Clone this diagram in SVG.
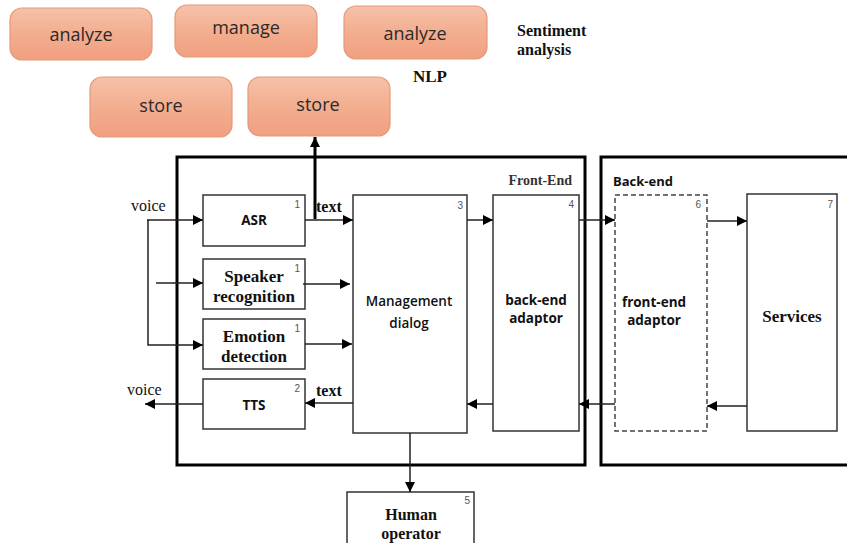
<svg xmlns="http://www.w3.org/2000/svg" width="847" height="543" viewBox="0 0 847 543">
<defs>
<linearGradient id="og" x1="0" y1="0" x2="0" y2="1">
<stop offset="0" stop-color="#f6c2aa"/>
<stop offset="0.5" stop-color="#f3ad8f"/>
<stop offset="1" stop-color="#f0a080"/>
</linearGradient>
<marker id="ah" viewBox="0 0 10 10" refX="10" refY="5" markerWidth="10" markerHeight="10" markerUnits="userSpaceOnUse" orient="auto">
<path d="M0,0 L10,5 L0,10 z" fill="#000"/>
</marker>
</defs>
<style>
.pill{fill:url(#og);stroke:#e39a78;stroke-width:1.2}
.pt{font-family:"Open Sans","Liberation Sans",sans-serif;font-size:18px;fill:#2a2a2a;text-anchor:middle}
.frame{fill:none;stroke:#000;stroke-width:3}
.box{fill:#fff;stroke:#333;stroke-width:1.5}
.dbox{fill:#fff;stroke:#444;stroke-width:1.5;stroke-dasharray:5,3}
.num{font-family:"Liberation Sans",sans-serif;font-size:10px;fill:#555;text-anchor:end}
.sb{font-family:"Open Sans","Liberation Sans",sans-serif;font-weight:bold;font-size:13.5px;fill:#111;text-anchor:middle}
.rb{font-family:"Liberation Serif",serif;font-weight:bold;font-size:17px;fill:#111;text-anchor:middle}
.rl{font-family:"Liberation Serif",serif;font-size:16px;fill:#111}
.c{fill:none;stroke:#222;stroke-width:1.5}
</style>
<g id="analyze1"><rect class="pill" x="10" y="8" width="142" height="52" rx="12"/><text class="pt" x="81" y="41">analyze</text></g>
<g id="manage"><rect class="pill" x="175" y="5" width="142" height="52" rx="12"/><text class="pt" x="246" y="34">manage</text></g>
<g id="analyze2"><rect class="pill" x="344" y="6" width="143" height="53" rx="12"/><text class="pt" x="415" y="40">analyze</text></g>
<g id="store1"><rect class="pill" x="90" y="77" width="142" height="60" rx="12"/><text class="pt" x="161" y="112">store</text></g>
<g id="store2"><rect class="pill" x="248" y="77" width="142" height="59" rx="12"/><text class="pt" x="318" y="111">store</text></g>
<g id="sentiment"><text class="rl" x="517" y="36" style="font-weight:bold">Sentiment</text><text class="rl" x="517" y="55" style="font-weight:bold">analysis</text></g>
<g id="nlp"><text class="rl" x="413" y="82" style="font-weight:bold;font-size:17px">NLP</text></g>

<g id="frontend-frame"><rect class="frame" x="177" y="157" width="408" height="308"/><text x="572" y="185" style="font-family:'Liberation Serif',serif;font-weight:bold;font-size:14px;fill:#333;text-anchor:end">Front-End</text></g>
<g id="backend-frame"><rect class="frame" x="601" y="157" width="260" height="308"/><text x="613" y="186" style="font-family:'Open Sans','Liberation Sans',sans-serif;font-weight:bold;font-size:13px;fill:#111">Back-end</text></g>

<g id="asr"><rect class="box" x="203" y="195" width="102" height="51"/><text class="num" x="300" y="208">1</text><text class="sb" x="254" y="225">ASR</text></g>
<g id="speaker"><rect class="box" x="203" y="259" width="102" height="50"/><text class="num" x="300" y="272">1</text><text class="rb" x="254" y="282">Speaker</text><text class="rb" x="254" y="302">recognition</text></g>
<g id="emotion"><rect class="box" x="203" y="319" width="102" height="50"/><text class="num" x="300" y="332">1</text><text class="rb" x="254" y="342">Emotion</text><text class="rb" x="254" y="362">detection</text></g>
<g id="tts"><rect class="box" x="203" y="379" width="102" height="50"/><text class="num" x="300" y="392">2</text><text class="sb" x="254" y="410">TTS</text></g>
<g id="mgmt"><rect class="box" x="353" y="195" width="114" height="238"/><text class="num" x="463" y="209">3</text><text class="sb" x="409" y="306" style="font-weight:600">Management</text><text class="sb" x="409" y="328" style="font-weight:600">dialog</text></g>
<g id="bea"><rect class="box" x="493" y="195" width="86" height="236"/><text class="num" x="574" y="208">4</text><text class="sb" x="536" y="305">back-end</text><text class="sb" x="536" y="323">adaptor</text></g>
<g id="fea"><rect class="dbox" x="615" y="195" width="92" height="236"/><text class="num" x="701" y="208">6</text><text class="sb" x="654" y="307">front-end</text><text class="sb" x="654" y="325">adaptor</text></g>
<g id="services"><rect class="box" x="747" y="194" width="90" height="237"/><text class="num" x="833" y="208">7</text><text class="rb" x="792" y="322">Services</text></g>
<g id="human"><rect class="box" x="347" y="492" width="127" height="60"/><text class="num" x="470" y="504">5</text><text class="rb" x="411" y="520" style="font-size:16px">Human</text><text class="rb" x="411" y="539" style="font-size:16px">operator</text></g>

<g id="connectors">
<text class="rl" x="131" y="211">voice</text>
<text class="rl" x="316" y="212" style="font-weight:bold">text</text>
<text class="rl" x="316" y="396" style="font-weight:bold">text</text>
<text class="rl" x="127" y="395">voice</text>
<path class="c" d="M147,220 H203" marker-end="url(#ah)"/>
<path class="c" d="M148,220 V345 H203" marker-end="url(#ah)"/>
<path class="c" d="M156,283 H203" marker-end="url(#ah)"/>
<path class="c" d="M305,220 H353" marker-end="url(#ah)"/>
<path d="M315,219 V137" fill="none" stroke="#000" stroke-width="3" marker-end="url(#ah)"/>
<path class="c" d="M303,284 H350" marker-end="url(#ah)"/>
<path class="c" d="M305,344 H352" marker-end="url(#ah)"/>
<path class="c" d="M353,403 H305" marker-end="url(#ah)"/>
<path class="c" d="M203,404 H145" marker-end="url(#ah)"/>
<path class="c" d="M467,220 H493" marker-end="url(#ah)"/>
<path class="c" d="M579,220 H615" marker-end="url(#ah)"/>
<path class="c" d="M707,221 H747" marker-end="url(#ah)"/>
<path class="c" d="M747,406 H707" marker-end="url(#ah)"/>
<path class="c" d="M615,404 H579" marker-end="url(#ah)"/>
<path class="c" d="M493,404 H467" marker-end="url(#ah)"/>
<path class="c" d="M410,433 V492" marker-end="url(#ah)"/>
</g>
</svg>
